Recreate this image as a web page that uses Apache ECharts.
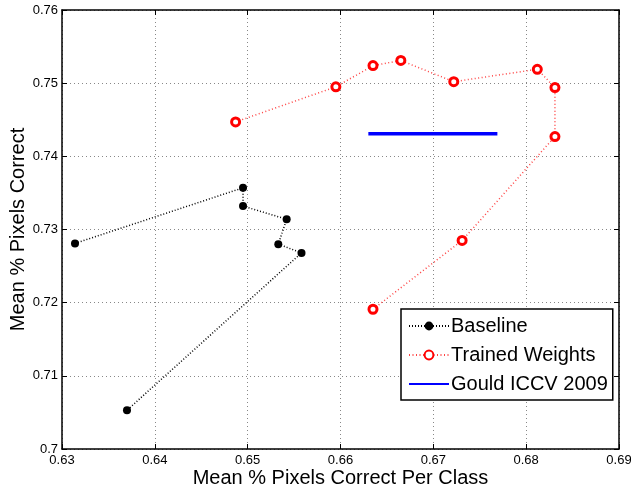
<!DOCTYPE html>
<html>
<head>
<meta charset="utf-8">
<script src="https://cdn.jsdelivr.net/npm/echarts@6/dist/echarts.min.js"></script>
<style>
html,body{margin:0;padding:0;background:#fff;}
#chart{width:631px;height:488px;}
</style>
</head>
<body>
<div id="chart"></div>
<script>
// Data
var baselineX = [0.6314, 0.6495, 0.6495, 0.6542, 0.6533, 0.6558, 0.6370];
var baselineY = [0.7281, 0.7357, 0.7332, 0.7314, 0.7280, 0.7268, 0.7053];
var trainedX = [0.6487, 0.6595, 0.6635, 0.6665, 0.6722, 0.6812, 0.6831, 0.6831, 0.6731, 0.6635];
var trainedY = [0.7447, 0.7495, 0.7524, 0.7531, 0.7502, 0.7519, 0.7494, 0.7427, 0.7285, 0.7191];
var gouldX = [0.6630, 0.6769];
var gouldY = [0.7431, 0.7431];
var seriesNames = ['Baseline', 'Trained Weights', 'Gould ICCV 2009'];
var xTicks = [0.63, 0.69, 0.01];
var yTicks = [0.70, 0.76, 0.01];

function pairs(xs, ys) { return xs.map(function (x, i) { return [x, ys[i]]; }); }

var font = 'Liberation Sans, Arial, Helvetica, sans-serif';
var gridLine = { show: true, lineStyle: { color: '#888', type: [1, 3], width: 1 } };
function baseAxis(extra) {
  var a = {
    type: 'value',
    axisLine: { show: true, onZero: false, lineStyle: { color: '#000', width: 1.5 } },
    axisTick: { show: true, inside: true, length: 5, lineStyle: { color: '#000', width: 1 } },
    splitLine: { show: false },
    axisLabel: { show: false }
  };
  for (var k in extra) a[k] = extra[k];
  return a;
}

var chart = echarts.init(document.getElementById('chart'), null, { renderer: 'canvas' });
chart.setOption({
  animation: false,
  backgroundColor: '#fff',
  grid: { left: 62, top: 10, right: 12, bottom: 39, containLabel: false, outerBoundsMode: 'none' },
  xAxis: [
    baseAxis({
      min: xTicks[0], max: xTicks[1], interval: xTicks[2], position: 'bottom',
      splitLine: gridLine,
      axisLabel: { show: true, color: '#000', fontSize: 13, fontFamily: font, margin: 5,
        formatter: function (v) { return +v.toFixed(2) + ''; } },
      name: 'Mean % Pixels Correct Per Class', nameLocation: 'middle', nameGap: 19,
      nameMoveOverlap: false,
      nameTextStyle: { color: '#000', fontSize: 20, fontFamily: font }
    }),
    baseAxis({ min: xTicks[0], max: xTicks[1], interval: xTicks[2], position: 'top' })
  ],
  yAxis: [
    baseAxis({
      min: yTicks[0], max: yTicks[1], interval: yTicks[2], position: 'left',
      splitLine: gridLine,
      axisLabel: { show: true, color: '#000', fontSize: 13, fontFamily: font, margin: 4,
        formatter: function (v) { return +v.toFixed(2) + ''; } },
      name: 'Mean % Pixels Correct', nameLocation: 'middle', nameGap: 34,
      nameMoveOverlap: false,
      nameTextStyle: { color: '#000', fontSize: 20, fontFamily: font }
    }),
    baseAxis({ min: yTicks[0], max: yTicks[1], interval: yTicks[2], position: 'right' })
  ],
  legend: {
    left: 401, top: 309, orient: 'vertical',
    data: [
      { name: seriesNames[0] },
      { name: seriesNames[1] },
      { name: seriesNames[2], itemStyle: { opacity: 0 } }
    ],
    backgroundColor: '#fff', borderColor: '#000', borderWidth: 1.5,
    padding: [7, 5, 6, 7], itemGap: 9, itemWidth: 40, itemHeight: 11,
    textStyle: { color: '#000', fontSize: 20, fontFamily: font, padding: [0, 0, 0, -3] }
  },
  series: [
    {
      name: seriesNames[0], type: 'line', data: pairs(baselineX, baselineY),
      symbol: 'circle', symbolSize: 8,
      itemStyle: { color: '#000' },
      lineStyle: { color: '#000', width: 1.5, type: [1, 2] },
      z: 3
    },
    {
      name: seriesNames[1], type: 'line', data: pairs(trainedX, trainedY),
      symbol: 'circle', symbolSize: 8,
      itemStyle: { color: '#fff', borderColor: '#ff0000', borderWidth: 3 },
      lineStyle: { color: '#ff4444', width: 1.5, type: [1, 2.5] },
      z: 4
    },
    {
      name: seriesNames[2], type: 'line', data: pairs(gouldX, gouldY),
      symbol: 'none', showSymbol: false,
      itemStyle: { color: '#0000ff' },
      lineStyle: { color: '#0000ff', width: 3.5, type: 'solid' },
      z: 2
    }
  ]
});
</script>
</body>
</html>
